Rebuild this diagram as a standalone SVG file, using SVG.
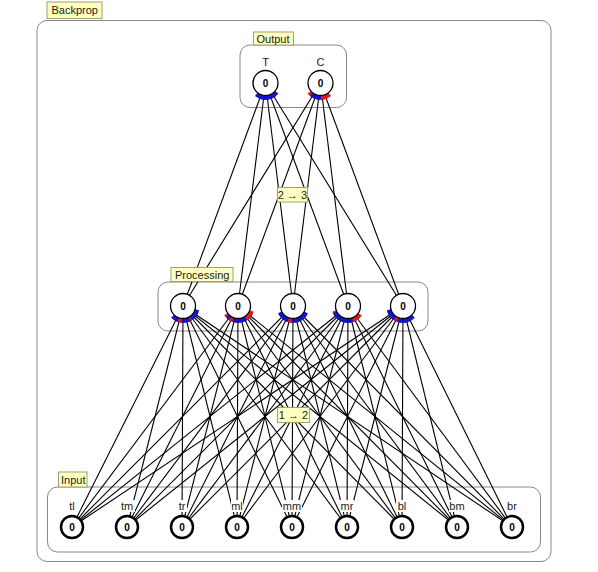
<svg xmlns="http://www.w3.org/2000/svg" width="598" height="572" viewBox="0 0 598 572">
<style>
.e{stroke:#000;stroke-width:1.1;fill:none}
.eb{marker-end:url(#mkB)}
.er{marker-end:url(#mkR)}
.n{fill:#fff;stroke:#000;stroke-width:1.3}
.ni{fill:#fff;stroke:#000;stroke-width:2.5}
.v{font-family:'Liberation Sans',Arial,sans-serif;font-size:10px;font-weight:bold;text-anchor:middle;fill:#000}
.l{font-family:'Liberation Sans',Arial,sans-serif;font-size:11px;text-anchor:middle;fill:#222}
.lb{fill:#fff;stroke:none}
.g{fill:none;stroke:#888;stroke-width:1}
.tag{fill:#ffffc0;stroke:#a0a070;stroke-width:1}
.tt{font-family:'Liberation Sans','DejaVu Sans',sans-serif;font-size:11px;fill:#222}
</style>
<defs>
<marker id="mkB" markerUnits="userSpaceOnUse" orient="auto" refX="0" refY="0" markerWidth="1" markerHeight="1" overflow="visible"><path d="M-13.8,-4.75 A14.6,14.6 0 0 0 -13.8,4.75" fill="none" stroke="#1414cc" stroke-width="4.2"/></marker>
<marker id="mkR" markerUnits="userSpaceOnUse" orient="auto" refX="0" refY="0" markerWidth="1" markerHeight="1" overflow="visible"><path d="M-13.8,-4.75 A14.6,14.6 0 0 0 -13.8,4.75" fill="none" stroke="#e01818" stroke-width="4.2"/></marker>
</defs>
<rect width="598" height="572" fill="#fff"/>
<g id="frames">
<rect class="g" x="37" y="20.5" width="514" height="541" rx="10"/>
<rect class="g" x="240" y="45" width="106.5" height="62.5" rx="10"/>
<rect class="g" x="158" y="282" width="270" height="49" rx="10"/>
<rect class="g" x="47.5" y="487" width="493" height="65" rx="10"/>
</g>
<g id="connectors">
<line class="e eb" x1="72" y1="527" x2="183" y2="306"/>
<line class="e eb" x1="127" y1="527" x2="183" y2="306"/>
<line class="e er" x1="182" y1="527" x2="183" y2="306"/>
<line class="e eb" x1="237" y1="527" x2="183" y2="306"/>
<line class="e eb" x1="292" y1="527" x2="183" y2="306"/>
<line class="e eb" x1="347" y1="527" x2="183" y2="306"/>
<line class="e er" x1="402" y1="527" x2="183" y2="306"/>
<line class="e eb" x1="457" y1="527" x2="183" y2="306"/>
<line class="e eb" x1="512" y1="527" x2="183" y2="306"/>
<line class="e er" x1="72" y1="527" x2="238" y2="306"/>
<line class="e eb" x1="127" y1="527" x2="238" y2="306"/>
<line class="e er" x1="182" y1="527" x2="238" y2="306"/>
<line class="e eb" x1="237" y1="527" x2="238" y2="306"/>
<line class="e eb" x1="292" y1="527" x2="238" y2="306"/>
<line class="e eb" x1="347" y1="527" x2="238" y2="306"/>
<line class="e eb" x1="402" y1="527" x2="238" y2="306"/>
<line class="e eb" x1="457" y1="527" x2="238" y2="306"/>
<line class="e er" x1="512" y1="527" x2="238" y2="306"/>
<line class="e eb" x1="72" y1="527" x2="293" y2="306"/>
<line class="e eb" x1="127" y1="527" x2="293" y2="306"/>
<line class="e eb" x1="182" y1="527" x2="293" y2="306"/>
<line class="e eb" x1="237" y1="527" x2="293" y2="306"/>
<line class="e er" x1="292" y1="527" x2="293" y2="306"/>
<line class="e eb" x1="347" y1="527" x2="293" y2="306"/>
<line class="e eb" x1="402" y1="527" x2="293" y2="306"/>
<line class="e eb" x1="457" y1="527" x2="293" y2="306"/>
<line class="e eb" x1="512" y1="527" x2="293" y2="306"/>
<line class="e er" x1="72" y1="527" x2="348" y2="306"/>
<line class="e eb" x1="127" y1="527" x2="348" y2="306"/>
<line class="e eb" x1="182" y1="527" x2="348" y2="306"/>
<line class="e eb" x1="237" y1="527" x2="348" y2="306"/>
<line class="e eb" x1="292" y1="527" x2="348" y2="306"/>
<line class="e eb" x1="347" y1="527" x2="348" y2="306"/>
<line class="e eb" x1="402" y1="527" x2="348" y2="306"/>
<line class="e eb" x1="457" y1="527" x2="348" y2="306"/>
<line class="e er" x1="512" y1="527" x2="348" y2="306"/>
<line class="e eb" x1="72" y1="527" x2="403" y2="306"/>
<line class="e eb" x1="127" y1="527" x2="403" y2="306"/>
<line class="e eb" x1="182" y1="527" x2="403" y2="306"/>
<line class="e eb" x1="237" y1="527" x2="403" y2="306"/>
<line class="e eb" x1="292" y1="527" x2="403" y2="306"/>
<line class="e er" x1="347" y1="527" x2="403" y2="306"/>
<line class="e eb" x1="402" y1="527" x2="403" y2="306"/>
<line class="e eb" x1="457" y1="527" x2="403" y2="306"/>
<line class="e eb" x1="512" y1="527" x2="403" y2="306"/>
<line class="e eb" x1="183" y1="306" x2="265.5" y2="83"/>
<line class="e eb" x1="238" y1="306" x2="265.5" y2="83"/>
<line class="e eb" x1="293" y1="306" x2="265.5" y2="83"/>
<line class="e eb" x1="348" y1="306" x2="265.5" y2="83"/>
<line class="e eb" x1="403" y1="306" x2="265.5" y2="83"/>
<line class="e er" x1="183" y1="306" x2="320.5" y2="83"/>
<line class="e eb" x1="238" y1="306" x2="320.5" y2="83"/>
<line class="e eb" x1="293" y1="306" x2="320.5" y2="83"/>
<line class="e eb" x1="348" y1="306" x2="320.5" y2="83"/>
<line class="e er" x1="403" y1="306" x2="320.5" y2="83"/>
<rect class="tag" x="277.5" y="187.5" width="30" height="14.5"/>
<text class="tt" x="292.5" y="198.5" text-anchor="middle">2 → 3</text>
<rect class="tag" x="277.5" y="407.5" width="32" height="15"/>
<text class="tt" x="293.5" y="419" text-anchor="middle">1 → 2</text>
</g>
<g id="T"><text class="l" x="265.5" y="66">T</text><circle class="n" cx="265.5" cy="83" r="12.5"/><text class="v" x="265.5" y="87">0</text></g>
<g id="C"><text class="l" x="320.5" y="66">C</text><circle class="n" cx="320.5" cy="83" r="12.5"/><text class="v" x="320.5" y="87">0</text></g>
<g id="p1"><circle class="n" cx="183" cy="306" r="12.5"/><text class="v" x="183" y="310">0</text></g>
<g id="p2"><circle class="n" cx="238" cy="306" r="12.5"/><text class="v" x="238" y="310">0</text></g>
<g id="p3"><circle class="n" cx="293" cy="306" r="12.5"/><text class="v" x="293" y="310">0</text></g>
<g id="p4"><circle class="n" cx="348" cy="306" r="12.5"/><text class="v" x="348" y="310">0</text></g>
<g id="p5"><circle class="n" cx="403" cy="306" r="12.5"/><text class="v" x="403" y="310">0</text></g>
<g id="in-tl"><rect class="lb" x="67" y="500" width="10" height="12"/><text class="l" x="72" y="509.5">tl</text><circle class="ni" cx="72" cy="527" r="11"/><text class="v" x="72" y="531">0</text></g>
<g id="in-tm"><rect class="lb" x="119" y="500" width="16" height="12"/><text class="l" x="127" y="509.5">tm</text><circle class="ni" cx="127" cy="527" r="11"/><text class="v" x="127" y="531">0</text></g>
<g id="in-tr"><rect class="lb" x="177" y="500" width="10" height="12"/><text class="l" x="182" y="509.5">tr</text><circle class="ni" cx="182" cy="527" r="11"/><text class="v" x="182" y="531">0</text></g>
<g id="in-ml"><rect class="lb" x="231" y="500" width="12" height="12"/><text class="l" x="237" y="509.5">ml</text><circle class="ni" cx="237" cy="527" r="11"/><text class="v" x="237" y="531">0</text></g>
<g id="in-mm"><rect class="lb" x="282" y="500" width="20" height="12"/><text class="l" x="292" y="509.5">mm</text><circle class="ni" cx="292" cy="527" r="11"/><text class="v" x="292" y="531">0</text></g>
<g id="in-mr"><rect class="lb" x="340" y="500" width="14" height="12"/><text class="l" x="347" y="509.5">mr</text><circle class="ni" cx="347" cy="527" r="11"/><text class="v" x="347" y="531">0</text></g>
<g id="in-bl"><rect class="lb" x="396" y="500" width="12" height="12"/><text class="l" x="402" y="509.5">bl</text><circle class="ni" cx="402" cy="527" r="11"/><text class="v" x="402" y="531">0</text></g>
<g id="in-bm"><rect class="lb" x="449" y="500" width="16" height="12"/><text class="l" x="457" y="509.5">bm</text><circle class="ni" cx="457" cy="527" r="11"/><text class="v" x="457" y="531">0</text></g>
<g id="in-br"><rect class="lb" x="506" y="500" width="12" height="12"/><text class="l" x="512" y="509.5">br</text><circle class="ni" cx="512" cy="527" r="11"/><text class="v" x="512" y="531">0</text></g>
<g id="tags">
<rect class="tag" x="47" y="2" width="55" height="16.5"/><text class="tt" x="51.5" y="14">Backprop</text>
<rect class="tag" x="253.5" y="32" width="40" height="13"/><text class="tt" x="256.5" y="43">Output</text>
<rect class="tag" x="171" y="267.5" width="62" height="14"/><text class="tt" x="175" y="278.5">Processing</text>
<rect class="tag" x="58.5" y="472" width="28.5" height="15"/><text class="tt" x="61" y="483.5">Input</text>
</g>
</svg>
